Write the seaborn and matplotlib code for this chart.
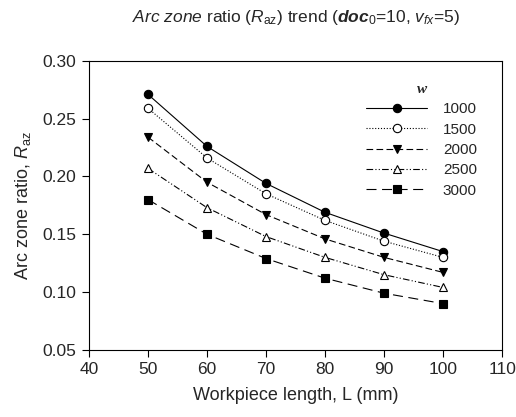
import numpy as np
import pandas as pd
import seaborn as sns
import matplotlib.pyplot as plt
from matplotlib.lines import Line2D

# data
lengths = [50, 60, 70, 80, 90, 100]
w_values = ['1000', '1500', '2000', '2500', '3000']
r_1000 = [0.271, 0.226, 0.194, 0.169, 0.151, 0.135]
r_1500 = [0.259, 0.216, 0.185, 0.162, 0.144, 0.130]
r_2000 = [0.234, 0.195, 0.167, 0.146, 0.130, 0.117]
r_2500 = [0.207, 0.173, 0.148, 0.130, 0.115, 0.104]
r_3000 = [0.180, 0.150, 0.129, 0.112, 0.099, 0.090]

series = [r_1000, r_1500, r_2000, r_2500, r_3000]
df = pd.DataFrame({
    'L': lengths * len(w_values),
    'R': np.concatenate(series),
    'w': np.repeat(w_values, len(lengths)),
})

sns.set_style('ticks')
plt.rcParams['font.family'] = ['Liberation Sans', 'DejaVu Sans']
plt.rcParams['mathtext.fontset'] = 'custom'
plt.rcParams['mathtext.rm'] = 'Liberation Sans'
plt.rcParams['mathtext.it'] = 'Liberation Sans:italic'
plt.rcParams['mathtext.bf'] = 'Liberation Sans:bold'
plt.rcParams['mathtext.bfit'] = 'Liberation Sans:bold:italic'

styles = {
    '1000': dict(marker='o', mfc='black', dashes=()),
    '1500': dict(marker='o', mfc='white', dashes=(1, 1.6)),
    '2000': dict(marker='v', mfc='black', dashes=(6, 3)),
    '2500': dict(marker='^', mfc='white', dashes=(6, 2, 1, 2, 1, 2)),
    '3000': dict(marker='s', mfc='black', dashes=(9, 5)),
}

fig = plt.figure(figsize=(5.16, 4.17), dpi=100)
ax = fig.add_axes([0.1725, 0.161, 0.8005, 0.693])

handles = []
for w in w_values:
    st = styles[w]
    sub = df[df['w'] == w]
    sns.lineplot(data=sub, x='L', y='R', ax=ax, color='black', lw=0.8,
                 marker=st['marker'], markersize=6, markerfacecolor=st['mfc'],
                 markeredgecolor='black', markeredgewidth=0.8, legend=False)
    line = ax.lines[-1]
    if st['dashes']:
        line.set_dashes(st['dashes'])
    handles.append(Line2D([], [], color='black', lw=0.8, marker=st['marker'],
                          markersize=6, mfc=st['mfc'], mec='black', mew=0.8,
                          dashes=st['dashes'] if st['dashes'] else (None, None)))

ax.set_xlim(40, 110)
ax.set_ylim(0.05, 0.30)
ax.set_xticks(range(40, 111, 10))
ax.set_yticks([0.05, 0.10, 0.15, 0.20, 0.25, 0.30])
ax.set_yticklabels(['0.05', '0.10', '0.15', '0.20', '0.25', '0.30'])
ax.tick_params(labelsize=12.5, direction='out', length=5, width=0.8, pad=4,
               color='black')
for sp in ax.spines.values():
    sp.set_linewidth(0.8)
    sp.set_color('black')

ax.set_xlabel('Workpiece length, L (mm)', fontsize=13, labelpad=7)
ax.set_ylabel(r'Arc zone ratio, $\it{R}_{\rm az}$', fontsize=13, labelpad=7)

fig.text(0.573, 0.957,
         r'$\it{Arc\ zone}$ ratio ($\it{R}_{\rm az}$) trend ($\mathbfit{doc}_{\rm 0}$=10, $\it{v}_{\it{fx}}$=5)',
         ha='center', va='center', fontsize=12.5)

leg = ax.legend(handles, w_values, loc='upper right', bbox_to_anchor=(0.972, 0.972),
                frameon=False, fontsize=11, handlelength=4.0, handletextpad=1.0,
                labelspacing=0.42, title='w')
leg.get_title().set_fontfamily('Liberation Serif')
leg.get_title().set_fontstyle('italic')
leg.get_title().set_fontweight('bold')
leg.get_title().set_fontsize(11)

fig.savefig('out.png', dpi=100)
